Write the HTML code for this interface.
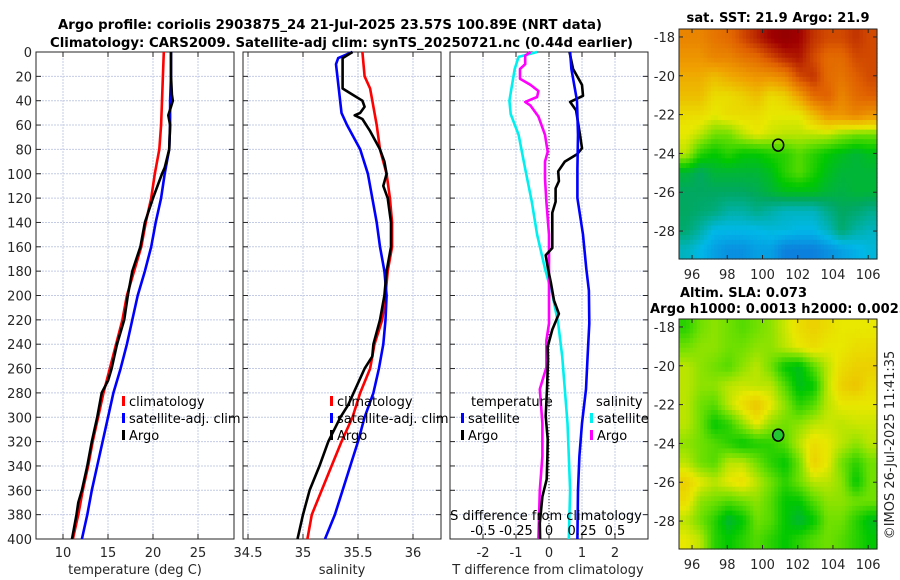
<!DOCTYPE html>
<html><head><meta charset="utf-8">
<style>
html,body{margin:0;padding:0;background:#fff;}
svg{display:block;font-family:"DejaVu Sans","Liberation Sans",sans-serif;}
</style></head>
<body>
<svg id="fig" width="900" height="580" viewBox="0 0 900 580" xmlns="http://www.w3.org/2000/svg">
<rect width="900" height="580" fill="#fff"/>
<text x="58" y="29" font-size="13" font-weight="bold" textLength="544" lengthAdjust="spacingAndGlyphs">Argo profile: coriolis 2903875_24 21-Jul-2025 23.57S 100.89E (NRT data)</text>
<text x="50" y="47" font-size="13" font-weight="bold" textLength="583" lengthAdjust="spacingAndGlyphs">Climatology: CARS2009. Satellite-adj clim: synTS_20250721.nc (0.44d earlier)</text>
<g id="layer"></g>
</svg>
<script>
// ---- data ----
const tDepth=[0,20,40,60,80,100,120,140,160,180,200,220,240,260,280,300,320,340,360,380,400];
const tClim=[21.2,21.1,21.0,20.9,20.7,20.2,19.8,19.2,18.7,17.9,17.1,16.6,15.9,15.2,14.5,13.9,13.3,12.8,12.2,11.7,11.1];
const tSat=[22.0,22.0,21.9,21.9,21.8,21.3,20.9,20.3,19.8,19.1,18.3,17.7,17.1,16.4,15.6,15.0,14.4,13.8,13.2,12.7,12.1];
const argoTDepth=[0,20,35,40,45,52,60,80,95,100,120,140,160,180,200,220,240,260,270,280,300,320,340,360,370,380,400];
const argoT=[22.0,22.0,22.1,22.2,22.0,21.7,21.9,21.8,21.3,21.0,20.0,19.1,18.6,17.7,17.2,16.8,16.0,15.4,15.0,14.3,13.8,13.2,12.7,12.1,11.7,11.5,11.0];
const sClimDepth=[0,20,30,60,80,100,120,140,160,180,200,220,240,260,280,300,320,340,360,380,400];
const sClim=[35.54,35.56,35.61,35.67,35.70,35.76,35.79,35.81,35.81,35.77,35.75,35.72,35.65,35.61,35.52,35.45,35.35,35.26,35.17,35.08,35.04];
const sSatDepth=[0,5,10,50,60,80,100,120,140,160,180,200,220,240,260,280,300,320,340,360,380,400];
const sSat=[35.45,35.32,35.30,35.35,35.40,35.52,35.59,35.63,35.67,35.70,35.74,35.76,35.75,35.73,35.69,35.64,35.56,35.50,35.43,35.36,35.29,35.20];
const argoSDepth=[0,5,30,35,40,45,50,52,55,65,80,90,100,110,120,140,160,170,180,200,220,240,250,260,280,290,300,320,340,360,380,400];
const argoS=[35.45,35.36,35.36,35.45,35.54,35.56,35.52,35.47,35.54,35.61,35.70,35.74,35.76,35.73,35.77,35.80,35.80,35.78,35.76,35.74,35.70,35.64,35.63,35.56,35.46,35.41,35.34,35.23,35.15,35.06,35.00,34.95];
const dSSatDepth=[0,4,14,40,51,68,96,123,150,178,190,196,223,250,277,305,332,360,400];
const dSSat=[-0.09,-0.23,-0.26,-0.30,-0.29,-0.23,-0.18,-0.13,-0.09,-0.03,0,0.02,0.07,0.10,0.12,0.14,0.15,0.16,0.15];
const dSArgoDepth=[0,3,10,14,22,27,32,37,41,44,53,68,82,90,104,123,150,178,196,223,237,259,277,305,332,360,400];
const dSArgo=[-0.14,-0.18,-0.18,-0.22,-0.22,-0.14,-0.08,-0.09,-0.18,-0.14,-0.08,-0.03,-0.01,-0.03,-0.03,-0.02,0,0,0,0,-0.02,-0.02,-0.07,-0.05,-0.05,-0.07,-0.08];
const dTArgoDepth=[0,14,27,36,41,48,68,79,84,90,98,106,112,123,132,150,161,167,178,190,204,215,228,242,253,277,299,318,332,351,365,387,400];
const dTArgo=[0.62,0.73,1.0,1.03,0.64,0.82,0.94,1.0,0.85,0.48,0.28,0.3,0.2,0.2,0.1,0.1,0.1,-0.1,-0.03,0.06,0.15,0.3,0.1,-0.04,-0.03,-0.06,-0.1,-0.04,-0.05,-0.07,-0.2,-0.28,-0.27];
const dTSatDepth=[0,14,40,68,96,120,150,178,196,223,250,277,305,332,360,400];
const dTSat=[0.64,0.68,0.85,0.88,0.86,0.86,1.03,1.13,1.21,1.22,1.17,1.12,1.0,0.92,0.88,0.86];
const depthTicks=[0,20,40,60,80,100,120,140,160,180,200,220,240,260,280,300,320,340,360,380,400];
const tTicks=[10,15,20,25];
const sTicks=[34.5,35,35.5,36];
const dTTicks=[-2,-1,0,1,2];
const dSTicks=[-0.5,-0.25,0,0.25,0.5];
const dSTickLabels=["-0.5","-0.25","0","0.25","0.5"];
const latTicks=[-18,-20,-22,-24,-26,-28];
const lonTicks=[96,98,100,102,104,106];
const argoLon=100.89, argoLat=-23.57;
const sstGrid=[
[0.75,0.75,0.78,0.8,0.85,0.9,0.95,0.98,0.95,0.88,0.85,0.85,0.88,0.85],
[0.72,0.72,0.75,0.75,0.78,0.8,0.85,0.9,0.92,0.85,0.8,0.8,0.85,0.85],
[0.68,0.68,0.65,0.68,0.7,0.72,0.72,0.75,0.85,0.88,0.8,0.78,0.82,0.85],
[0.65,0.65,0.6,0.6,0.62,0.65,0.6,0.62,0.7,0.8,0.82,0.75,0.8,0.82],
[0.6,0.6,0.58,0.6,0.6,0.6,0.58,0.58,0.58,0.65,0.72,0.72,0.75,0.72],
[0.58,0.55,0.5,0.5,0.55,0.58,0.56,0.55,0.55,0.55,0.55,0.52,0.5,0.5],
[0.55,0.45,0.42,0.45,0.42,0.42,0.44,0.45,0.48,0.45,0.42,0.4,0.38,0.4],
[0.38,0.35,0.38,0.38,0.38,0.38,0.4,0.45,0.48,0.44,0.4,0.38,0.38,0.38],
[0.35,0.35,0.35,0.35,0.35,0.36,0.38,0.4,0.4,0.4,0.38,0.37,0.38,0.38],
[0.35,0.34,0.33,0.3,0.3,0.32,0.3,0.28,0.28,0.28,0.32,0.35,0.34,0.32],
[0.34,0.3,0.25,0.25,0.25,0.25,0.26,0.26,0.25,0.25,0.28,0.34,0.3,0.28],
[0.28,0.25,0.22,0.2,0.2,0.22,0.22,0.18,0.18,0.18,0.2,0.22,0.24,0.26]];
const slaGrid=[
[0.45,0.5,0.52,0.5,0.48,0.5,0.52,0.56,0.6,0.62,0.6,0.58,0.58,0.58],
[0.5,0.52,0.52,0.5,0.5,0.52,0.52,0.55,0.58,0.6,0.58,0.58,0.6,0.6],
[0.55,0.52,0.5,0.48,0.52,0.55,0.5,0.42,0.4,0.48,0.55,0.6,0.62,0.62],
[0.55,0.52,0.52,0.55,0.56,0.55,0.55,0.48,0.4,0.42,0.55,0.62,0.64,0.6],
[0.55,0.5,0.48,0.55,0.6,0.64,0.58,0.52,0.45,0.48,0.55,0.58,0.58,0.58],
[0.55,0.5,0.42,0.45,0.52,0.58,0.52,0.5,0.52,0.55,0.56,0.55,0.56,0.56],
[0.52,0.5,0.48,0.45,0.42,0.44,0.45,0.48,0.55,0.6,0.58,0.55,0.52,0.55],
[0.55,0.5,0.48,0.55,0.55,0.5,0.45,0.42,0.5,0.62,0.58,0.5,0.45,0.5],
[0.62,0.58,0.55,0.58,0.6,0.55,0.5,0.45,0.5,0.55,0.55,0.52,0.42,0.5],
[0.6,0.52,0.5,0.48,0.5,0.52,0.48,0.42,0.42,0.48,0.52,0.52,0.5,0.5],
[0.55,0.5,0.45,0.38,0.42,0.5,0.48,0.42,0.38,0.42,0.5,0.5,0.45,0.4],
[0.58,0.55,0.45,0.42,0.45,0.48,0.45,0.42,0.45,0.48,0.5,0.48,0.45,0.42]];

// ---- helpers ----
const NS="http://www.w3.org/2000/svg";
const layer=document.getElementById('layer');
function mk(tag,attrs,parent){const e=document.createElementNS(NS,tag);for(const k in attrs)e.setAttribute(k,attrs[k]);(parent||layer).appendChild(e);return e;}
function txt(s,x,y,anchor,size,parent){const t=mk('text',{x:x,y:y,'text-anchor':anchor,'font-size':size||13,fill:'#262626'},parent);t.textContent=s;return t;}
const Y0=52,Y1=539;
function yD(d){return Y0+d*(Y1-Y0)/400;}
function lin(d0,d1,r0,r1){return v=>r0+(v-d0)*(r1-r0)/(d1-d0);}

function axesFrame(x0,x1,name,xt,xScale,showY){
  const g=mk('g',{});
  
  
  depthTicks.forEach(d=>{mk('line',{x1:x0,x2:x1,y1:yD(d),y2:yD(d),stroke:'#c4cbe6','stroke-width':1,'stroke-dasharray':'2,1'},g);});
  xt.forEach(v=>{const x=xScale(v);mk('line',{x1:x,x2:x,y1:Y0,y2:Y1,stroke:'#c4cbe6','stroke-width':1,'stroke-dasharray':'2,1'},g);});
  depthTicks.forEach(d=>{mk('line',{x1:x0,x2:x0+5,y1:yD(d),y2:yD(d),stroke:'#262626'},g);mk('line',{x1:x1-5,x2:x1,y1:yD(d),y2:yD(d),stroke:'#262626'},g);});
  xt.forEach(v=>{const x=xScale(v);mk('line',{x1:x,x2:x,y1:Y1,y2:Y1-5,stroke:'#262626'},g);mk('line',{x1:x,x2:x,y1:Y0,y2:Y0+5,stroke:'#262626'},g);});
  mk('rect',{x:x0,y:Y0,width:x1-x0,height:Y1-Y0,fill:'none',stroke:'#262626','stroke-width':1},g);
  if(showY){depthTicks.forEach(d=>{const t=txt(String(d),32,yD(d)+5,'end',13,g);});}
  return g;
}
function line(xs,ds,xScale,color,name,w){
  const pts=xs.map((v,i)=>xScale(v).toFixed(1)+','+yD(ds[i]).toFixed(1)).join(' ');
  const p=mk('polyline',{points:pts,fill:'none',stroke:color,'stroke-width':w||2.6,'stroke-linejoin':'round'});
  
  
  return p;
}
function legendEntry(x,y,color,label,name){
  const g=mk('g',{});
  
  
  if(color)mk('rect',{x:x,y:y-10,width:3,height:10,fill:color},g);
  txt(label,x+7,y,'start',13,g).setAttribute('fill','#000');
}

// ---- panel 1: temperature ----
const xT=lin(7,29,36,234);
axesFrame(36,234,'temperature-axes',tTicks,xT,true);
tTicks.forEach(v=>{const t=txt(String(v),xT(v),557,'middle');});
let lt=txt('temperature (deg C)',135,574,'middle');
line(tClim,tDepth,xT,'#ff0000','temperature-climatology-line');
line(tSat,tDepth,xT,'#0000ff','temperature-satellite-line');
line(argoT,argoTDepth,xT,'#000000','temperature-argo-line');
legendEntry(122,406,'#ff0000','climatology','legend-climatology');
legendEntry(122,423,'#0000ff','satellite-adj. clim','legend-satellite-adj');
legendEntry(122,440,'#000000','Argo','legend-argo');

// ---- panel 2: salinity ----
const xS=lin(34.4545,36.2545,243,441);
axesFrame(243,441,'salinity-axes',sTicks,xS,false);
sTicks.forEach(v=>{const t=txt(String(v),xS(v),557,'middle');});
let ls=txt('salinity',342,574,'middle');
line(sClim,sClimDepth,xS,'#ff0000','salinity-climatology-line');
line(sSat,sSatDepth,xS,'#0000ff','salinity-satellite-line');
line(argoS,argoSDepth,xS,'#000000','salinity-argo-line');
legendEntry(330,406,'#ff0000','climatology','legend-climatology-s');
legendEntry(330,423,'#0000ff','satellite-adj. clim','legend-satellite-adj-s');
legendEntry(330,440,'#000000','Argo','legend-argo-s');

// ---- panel 3: differences ----
const xdT=lin(-3,3,450,648);
const xdS=lin(-0.75,0.75,450,648);
axesFrame(450,648,'difference-axes',dTTicks,xdT,false);
mk('line',{x1:xdT(0),x2:xdT(0),y1:Y0,y2:Y1,stroke:'#333','stroke-width':1,'stroke-dasharray':'1,2'});
line(dSSat,dSSatDepth,xdS,'#00f0f0','salinity-satellite-diff-line');
line(dSArgo,dSArgoDepth,xdS,'#ff00ff','salinity-argo-diff-line');
line(dTArgo,dTArgoDepth,xdT,'#000000','temperature-argo-diff-line');
line(dTSat,dTSatDepth,xdT,'#0000ff','temperature-satellite-diff-line');
dTTicks.forEach(v=>{const t=txt(String(v),xdT(v),557,'middle');});
dSTicks.forEach((v,i)=>{const t=txt(dSTickLabels[i],xdS(v),535,'middle',13);t.setAttribute('fill','#000');});
let l3=txt('S difference from climatology',546,520,'middle');l3.setAttribute('fill','#000');
let l4=txt('T difference from climatology',548,574,'middle');
legendEntry(464,406,null,'temperature','legend-temperature-header');
legendEntry(461,423,'#0000ff','satellite','legend-temperature-satellite');
legendEntry(461,440,'#000000','Argo','legend-temperature-argo');
legendEntry(589,406,null,'salinity','legend-salinity-header');
legendEntry(590,423,'#00f0f0','satellite','legend-salinity-satellite');
legendEntry(590,440,'#ff00ff','Argo','legend-salinity-argo');

// ---- maps ----
const stops=[[0,[20,40,200]],[0.1,[26,64,208]],[0.25,[0,184,232]],[0.35,[0,168,96]],[0.42,[0,200,0]],[0.5,[112,224,0]],[0.58,[232,232,0]],[0.7,[240,160,0]],[0.82,[224,96,0]],[0.95,[160,0,0]],[1,[140,0,0]]];
function cmap(v){v=Math.max(0,Math.min(1,v));for(let i=1;i<stops.length;i++){if(v<=stops[i][0]){const a=stops[i-1],b=stops[i];const t=(v-a[0])/(b[0]-a[0]);const c=a[1].map((x,k)=>Math.round(x+(b[1][k]-x)*t));return 'rgb('+c.join(',')+')';}}return 'rgb(140,0,0)';}
function bil(grid,fx,fy){const R=grid.length,C=grid[0].length;let x=fx*C-0.5,y=fy*R-0.5;x=Math.max(0,Math.min(C-1.0001,x));y=Math.max(0,Math.min(R-1.0001,y));const i=Math.floor(y),j=Math.floor(x),tx=x-j,ty=y-i;return grid[i][j]*(1-tx)*(1-ty)+grid[i][j+1]*tx*(1-ty)+grid[i+1][j]*(1-tx)*ty+grid[i+1][j+1]*tx*ty;}
function drawMap(grid,x0,y0,w,h,name,fillCircle){
  const g=mk('g',{});
  
  
  const N=56,M=48,cw=w/N,ch=h/M;
  for(let r=0;r<M;r++)for(let c=0;c<N;c++){mk('rect',{x:(x0+c*cw).toFixed(2),y:(y0+r*ch).toFixed(2),width:(cw+0.6).toFixed(2),height:(ch+0.6).toFixed(2),fill:cmap(bil(grid,(c+0.5)/N,(r+0.5)/M))},g);}
  const lonS=lin(95.26,106.5,x0,x0+w), latS=lin(-17.59,-29.44,y0,y0+h);
  mk('rect',{x:x0,y:y0,width:w,height:h,fill:'none',stroke:'#262626'},g);
  latTicks.forEach(v=>{const y=latS(v);mk('line',{x1:x0,x2:x0+4,y1:y,y2:y,stroke:'#262626'},g);mk('line',{x1:x0+w-4,x2:x0+w,y1:y,y2:y,stroke:'#262626'},g);const t=txt(String(v),x0-4,y+5,'end',13,g);});
  lonTicks.forEach(v=>{const x=lonS(v);mk('line',{x1:x,x2:x,y1:y0+h,y2:y0+h-4,stroke:'#262626'},g);mk('line',{x1:x,x2:x,y1:y0,y2:y0+4,stroke:'#262626'},g);const t=txt(String(v),x,y0+h+20,'middle',13,g);});
  const c=mk('ellipse',{cx:lonS(argoLon),cy:latS(argoLat),rx:5.5,ry:6,fill:fillCircle||'none',stroke:'#000','stroke-width':1.5},g);
  
  
}
drawMap(sstGrid,679,29,198,230,'sst-map');
drawMap(slaGrid,679,319,198,230,'sla-map','#22c830');
let m1=txt('sat. SST: 21.9 Argo: 21.9',778,22,'middle',13);m1.setAttribute('font-weight','bold');m1.setAttribute('fill','#000');m1.setAttribute('textLength','183');

let m2=txt('Altim. SLA: 0.073',680,297,'start',13);m2.setAttribute('font-weight','bold');m2.setAttribute('fill','#000');m2.setAttribute('textLength','127');

let m3=txt('Argo h1000: 0.0013 h2000: 0.0023',650,313,'start',13);m3.setAttribute('font-weight','bold');m3.setAttribute('fill','#000');m3.setAttribute('textLength','258');

let ts=txt('©IMOS 26-Jul-2025 11:41:35',0,0,'middle',13);ts.setAttribute('transform','translate(894,445) rotate(-90)');

</script>
</body></html>
